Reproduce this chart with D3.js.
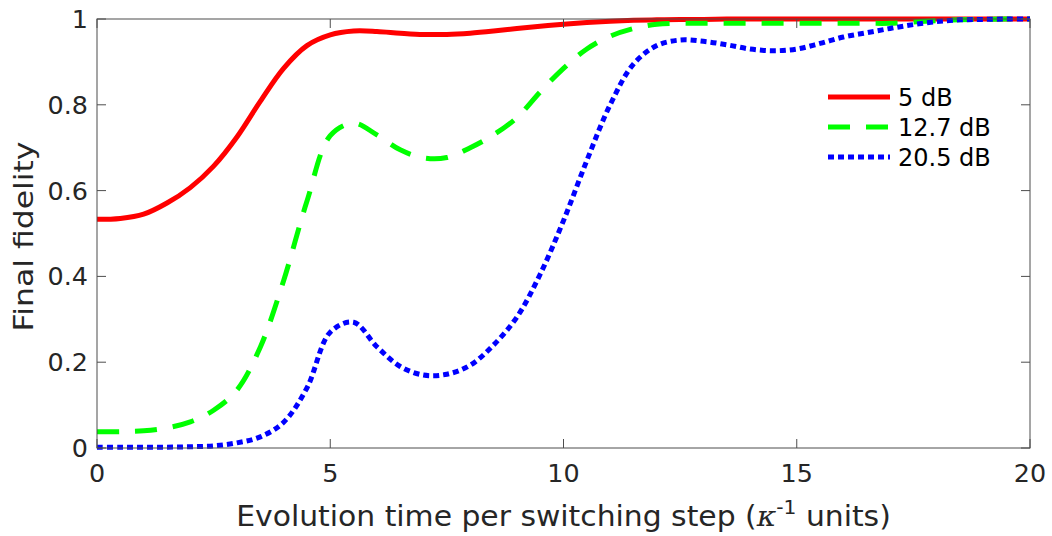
<!DOCTYPE html>
<html>
<head>
<meta charset="utf-8">
<script src="https://cdn.jsdelivr.net/npm/d3@7"></script>
<style>
  body { margin: 0; background: #fff; }
  text { font-family: "DejaVu Sans", sans-serif; fill: #262626; }
</style>
</head>
<body>
<svg id="chart"></svg>
<script>
// evolution time per switching step (kappa^-1 units)
const times = [0, 0.5, 1, 1.5, 2, 2.5, 3, 3.5, 4, 4.5, 5, 5.5, 6, 6.5, 7, 7.5, 8, 8.5, 9, 9.5,
               10, 10.5, 11, 11.5, 12, 12.5, 13, 13.5, 14, 14.5, 15, 15.5, 16, 16.5, 17, 17.5, 18, 18.5, 19, 19.5, 20];

const fid5 = [0.533, 0.535, 0.545, 0.571, 0.607, 0.657, 0.725, 0.808, 0.885, 0.938, 0.963, 0.972, 0.971, 0.967, 0.964, 0.964, 0.967, 0.972, 0.978, 0.983,
              0.988, 0.992, 0.995, 0.997, 0.998, 0.999, 0.999, 1, 1, 1, 1, 1, 1, 1, 1, 1, 1, 1, 1, 1, 1];

const fid12 = [0.038, 0.038, 0.040, 0.047, 0.061, 0.088, 0.135, 0.235, 0.39, 0.575, 0.728, 0.757, 0.73, 0.695, 0.676, 0.677, 0.70, 0.73, 0.77, 0.83,
               0.885, 0.93, 0.96, 0.978, 0.988, 0.99, 0.99, 0.99, 0.99, 0.99, 0.99, 0.99, 0.99, 0.99, 0.99, 0.993, 0.996, 0.998, 0.999, 1, 1];

const fid20 = [0.002, 0.002, 0.002, 0.002, 0.003, 0.005, 0.012, 0.026, 0.06, 0.14, 0.27, 0.293, 0.236, 0.19, 0.17, 0.172, 0.193, 0.24, 0.305, 0.405,
               0.53, 0.67, 0.80, 0.895, 0.938, 0.951, 0.948, 0.94, 0.93, 0.926, 0.93, 0.943, 0.958, 0.968, 0.978, 0.987, 0.994, 0.998, 0.999, 1, 1];

const seriesNames = ["5 dB", "12.7 dB", "20.5 dB"];
const xTicks = [0, 5, 10, 15, 20];
const yTicks = [0, 0.2, 0.4, 0.6, 0.8, 1];

const svgWidth = 1052, svgHeight = 536;
const margin = { top: 19, right: 22, bottom: 88, left: 97 };
const width = svgWidth - margin.left - margin.right;
const height = svgHeight - margin.top - margin.bottom;

const root = d3.select("#chart")
    .attr("width", svgWidth)
    .attr("height", svgHeight);

const svg = root.append("g")
    .attr("transform", `translate(${margin.left}, ${margin.top})`);

const x = d3.scaleLinear().domain([0, 20]).range([0, width]);
const y = d3.scaleLinear().domain([0, 1]).range([height, 0]);

// lines
const styles = [
    { color: "#ff0000", dash: null },
    { color: "#00ff00", dash: "22,16" },
    { color: "#0000ff", dash: "6,4" }
];
const allSeries = [fid5, fid12, fid20];

const line = d3.line()
    .x(d => x(d[0]))
    .y(d => y(d[1]))
    .curve(d3.curveCatmullRom.alpha(0.5));

allSeries.forEach((vals, i) => {
    svg.append("path")
        .datum(times.map((t, j) => [t, vals[j]]))
        .attr("fill", "none")
        .attr("stroke", styles[i].color)
        .attr("stroke-width", 5)
        .attr("stroke-dasharray", styles[i].dash)
        .attr("d", line);
});

// box + ticks
const axisColor = "#4d4d4d";
svg.append("rect")
    .attr("x", 0).attr("y", 0)
    .attr("width", width).attr("height", height)
    .attr("fill", "none")
    .attr("stroke", axisColor)
    .attr("stroke-width", 1);

const tickLen = 9;
const tickStretch = 1.06; // reference glyphs look a bit wider than DejaVu
xTicks.forEach(t => {
    svg.append("line").attr("x1", x(t)).attr("x2", x(t)).attr("y1", height).attr("y2", height - tickLen).attr("stroke", axisColor);
    svg.append("line").attr("x1", x(t)).attr("x2", x(t)).attr("y1", 0).attr("y2", tickLen).attr("stroke", axisColor);
    svg.append("text")
        .attr("transform", `translate(${x(t)}, ${height + 34}) scale(${tickStretch}, 1)`)
        .attr("text-anchor", "middle")
        .style("font-size", "24px")
        .text(t);
});
yTicks.forEach(v => {
    svg.append("line").attr("x1", 0).attr("x2", tickLen).attr("y1", y(v)).attr("y2", y(v)).attr("stroke", axisColor);
    svg.append("line").attr("x1", width).attr("x2", width - tickLen).attr("y1", y(v)).attr("y2", y(v)).attr("stroke", axisColor);
    svg.append("text")
        .attr("transform", `translate(-9, ${y(v) + 9}) scale(${tickStretch}, 1)`)
        .attr("text-anchor", "end")
        .style("font-size", "24px")
        .text(v);
});

// axis titles
const xTitle = svg.append("text")
    .attr("text-anchor", "middle")
    .style("font-size", "28px");
xTitle.append("tspan").text("Evolution time per switching step (");
xTitle.append("tspan").style("font-style", "italic").style("font-family", "DejaVu Serif").text("κ");
xTitle.append("tspan").attr("dy", -12).style("font-size", "19px").text("-1");
xTitle.append("tspan").attr("dy", 12).text(" units)");
const xw = xTitle.node().getComputedTextLength();
xTitle.attr("transform", `translate(${width / 2}, ${height + 78}) scale(${655 / xw}, 1)`);

const yTitle = svg.append("text")
    .attr("text-anchor", "middle")
    .style("font-size", "26px")
    .text("Final fidelity");
const yw = yTitle.node().getComputedTextLength();
yTitle.attr("transform", `translate(-64, ${height / 2 + 3}) rotate(-90) scale(${190 / yw}, 1)`);

// legend
const legend = svg.append("g").attr("transform", `translate(${828 - margin.left}, ${97 - margin.top})`);
seriesNames.forEach((name, i) => {
    const row = legend.append("g").attr("transform", `translate(0, ${i * 30})`);
    row.append("line")
        .attr("x1", 0).attr("x2", 62)
        .attr("y1", 0).attr("y2", 0)
        .attr("stroke", styles[i].color)
        .attr("stroke-width", 5)
        .attr("stroke-dasharray", styles[i].dash);
    row.append("text")
        .attr("x", 70).attr("y", 9)
        .style("font-size", "24px")
        .style("fill", "#000")
        .text(name);
});
</script>
</body>
</html>
